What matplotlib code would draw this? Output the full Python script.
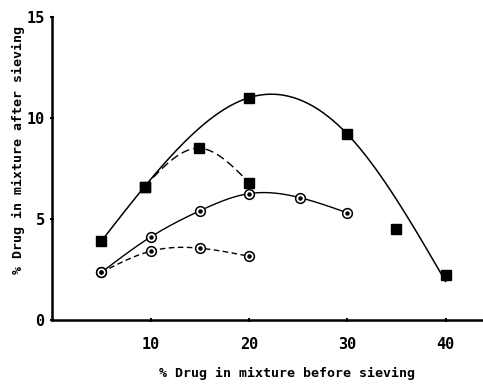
#!/usr/bin/env python3
"""Drug content after sieving vs drug content before sieving."""

import numpy as np
import matplotlib

matplotlib.use("Agg")
import matplotlib.pyplot as plt

# solid squares, solid curve (point at 35 sits off the curve)
sq_x = [5, 9.4, 20, 30, 35, 40]
sq_y = [3.9, 6.6, 11.0, 9.2, 4.5, 2.2]
sq_curve_x = [5, 9.4, 20, 30, 40]
sq_curve_y = [3.9, 6.6, 11.0, 9.2, 1.9]

# squares, dashed branch
sqd_x = [9.4, 14.9, 20]
sqd_y = [6.6, 8.5, 6.8]

# circles, solid curve
ci_x = [5, 10, 15, 20, 25.2, 30]
ci_y = [2.35, 4.1, 5.4, 6.25, 6.05, 5.3]

# circles, dashed curve
cid_x = [5, 10, 15, 20]
cid_y = [2.35, 3.4, 3.55, 3.15]


def spline(xs, ys, n=200):
    """Natural cubic spline through the points, for drawing only."""
    x = np.asarray(xs, float)
    y = np.asarray(ys, float)
    k = len(x)
    h = np.diff(x)
    a = np.zeros((k, k))
    b = np.zeros(k)
    a[0, 0] = a[-1, -1] = 1.0
    for i in range(1, k - 1):
        a[i, i - 1] = h[i - 1]
        a[i, i] = 2 * (h[i - 1] + h[i])
        a[i, i + 1] = h[i]
        b[i] = 6 * ((y[i + 1] - y[i]) / h[i] - (y[i] - y[i - 1]) / h[i - 1])
    m = np.linalg.solve(a, b)
    xx = np.linspace(x[0], x[-1], n)
    idx = np.clip(np.searchsorted(x, xx) - 1, 0, k - 2)
    x0, x1 = x[idx], x[idx + 1]
    hh = x1 - x0
    t0, t1 = x1 - xx, xx - x0
    yy = (m[idx] * t0 ** 3 + m[idx + 1] * t1 ** 3) / (6 * hh) \
        + (y[idx] / hh - m[idx] * hh / 6) * t0 \
        + (y[idx + 1] / hh - m[idx + 1] * hh / 6) * t1
    return xx, yy


fig = plt.figure(figsize=(4.83, 3.84), dpi=100)
fig.patch.set_facecolor("white")
ax = fig.add_axes([0.108, 0.167, 0.892, 0.789])

font = dict(family="DejaVu Sans Mono", weight="bold")

cx, cy = spline(sq_curve_x, sq_curve_y)
ax.plot(cx, cy, color="black", lw=1.1)
cx, cy = spline(sqd_x, sqd_y)
ax.plot(cx, cy, color="black", lw=1.0, dashes=(6, 3))
cx, cy = spline(ci_x, ci_y)
ax.plot(cx, cy, color="black", lw=1.0)
cx, cy = spline(cid_x, cid_y)
ax.plot(cx, cy, color="black", lw=1.0, dashes=(4, 2.5))

ax.plot(sq_x, sq_y, ls="none", marker="s", ms=7.5, color="black", zorder=3)
ax.plot(sqd_x, sqd_y, ls="none", marker="s", ms=7.5, color="black", zorder=3)
for xs, ys in [(ci_x, ci_y), (cid_x, cid_y)]:
    ax.plot(xs, ys, ls="none", marker="o", ms=7, mfc="white", mec="black", mew=1.1, zorder=3)
    ax.plot(xs, ys, ls="none", marker="o", ms=2.2, color="black", zorder=4)

ax.set_xlim(0, 43.8)
ax.set_ylim(0, 15)
ax.set_xticks([10, 20, 30, 40])
ax.set_yticks([0, 5, 10, 15])
ax.tick_params(axis="x", direction="inout", length=3, width=1.5, pad=11, labelsize=11)
ax.tick_params(axis="y", direction="inout", length=3, width=1.5, pad=4, labelsize=11)
for lab in ax.get_xticklabels() + ax.get_yticklabels():
    lab.set_fontfamily("DejaVu Sans Mono")
    lab.set_fontweight("bold")

for side in ["top", "right"]:
    ax.spines[side].set_visible(False)
ax.spines["left"].set_linewidth(1.8)
ax.spines["bottom"].set_linewidth(1.8)

ax.set_ylabel("% Drug in mixture after sieving", fontsize=9.5, **font)
ax.yaxis.set_label_coords(-0.062, 0.56)
ax.set_xlabel("% Drug in mixture before sieving", fontsize=9.5, **font)
ax.xaxis.set_label_coords(0.545, -0.155)

fig.savefig("out.png", dpi=100)
